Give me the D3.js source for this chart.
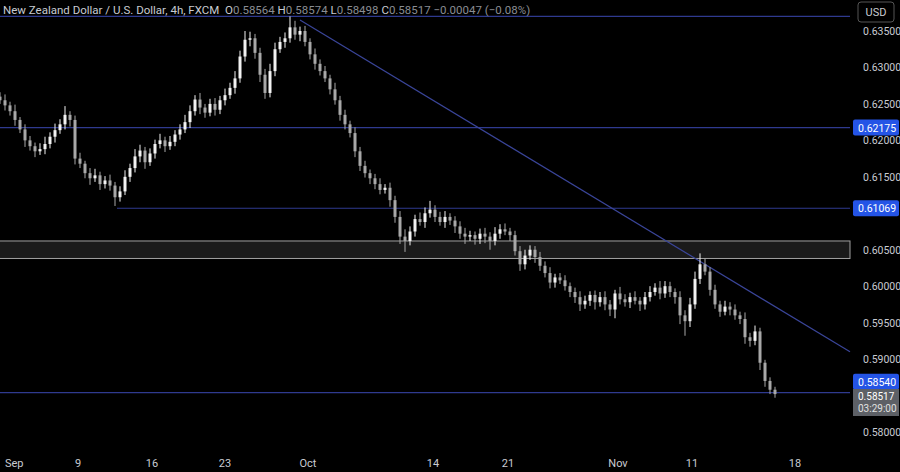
<!DOCTYPE html><html><head><meta charset="utf-8">
<script src="https://cdn.jsdelivr.net/npm/d3@7"></script>
<style>body{margin:0;background:#000}svg{display:block}</style></head><body>
<script>
// closes (in 1e-4 units), 8h candles
const closes=[6255,6248,6240,6228,6215,6200,6192,6185,6188,6195,6205,6214,6222,6235,6228,6175,6168,6155,6148,6152,6140,6145,6138,6122,6130,6150,6162,6178,6186,6170,6182,6195,6200,6192,6198,6208,6215,6225,6240,6256,6245,6238,6250,6242,6255,6262,6272,6285,6315,6338,6340,6320,6290,6265,6295,6325,6335,6340,6355,6345,6350,6335,6318,6305,6295,6285,6270,6255,6235,6222,6210,6185,6165,6155,6148,6140,6132,6135,6118,6095,6068,6062,6075,6092,6088,6100,6105,6095,6088,6095,6090,6082,6072,6068,6070,6065,6072,6068,6062,6072,6078,6075,6070,6048,6030,6042,6050,6040,6028,6018,6005,6012,6008,6000,5992,5985,5975,5980,5988,5978,5985,5975,5968,5990,5982,5978,5985,5980,5975,5985,5992,5998,5990,6000,5992,5985,5960,5952,5975,6010,6030,6020,5995,5975,5965,5972,5968,5960,5955,5930,5925,5938,5895,5870,5858,5852];
const upWick=[6,8,5,9,4,7,6,5,8,10,6,9,7,12,5,6,8,4,7,9,5,6,8,5,7,9,6,10,8,5,7,6,9,5,8,6,7,10,8,6,9,5,7,8,6,9,7,10,8,12,9,6,7,8,10,9,7,8,15,9,6,7,5,8,6,7,5,9,6,7,5,8,6,7,5,6,8,5,7,6,8,10,7,6,9,8,12,6,7,8,5,6,7,8,6,5,7,8,6,9,7,8,5,6,7,8,6,5,7,6,8,5,6,7,5,6,8,7,5,6,7,8,6,5,9,7,6,8,5,7,8,6,9,7,6,5,8,7,9,10,15,8,6,7,5,8,6,7,5,9,6,8,5,4,5,4];
const loWick=[5,7,6,8,5,9,6,8,5,7,6,8,5,7,9,8,6,7,9,5,8,6,7,12,6,5,7,6,8,9,5,7,6,8,5,6,7,5,8,6,9,7,5,8,6,7,5,8,6,7,9,8,10,8,6,7,5,8,6,7,9,6,7,8,6,5,7,6,8,7,6,8,7,6,8,7,6,5,9,8,10,15,6,7,5,8,6,7,5,8,6,9,7,10,6,8,7,9,12,6,7,5,8,6,9,7,6,8,7,6,8,7,5,6,7,8,9,6,7,10,6,8,9,12,7,6,8,5,9,7,6,5,8,6,7,9,12,20,8,6,7,5,8,6,7,5,8,6,7,9,8,6,10,8,6,5];
const priceTicks=[0.635,0.630,0.625,0.620,0.615,0.605,0.600,0.595,0.590,0.580];
const dateLabels=["Sep","9","16","23","Oct","14","21","Nov","11","18"];
const datePos=[1,15.6,30.4,45,61.6,86.6,101.6,123.6,138.4,159];
const levels=[{p:0.6370,from:0},{p:0.62175,from:0,lab:"0.62175"},{p:0.61069,from:23.4,lab:"0.61069"},{p:0.5854,from:0,lab:"0.58540",dy:-11}];
const zone=[0.6062,0.6038];
const trend=[{i:60,p:0.6365},{i:170,p:0.5910}];

const W=900,H=472,plotR=850;
const svg=d3.select("body").append("svg").attr("width",W).attr("height",H).style("background","#000");
const x=d3.scaleLinear().domain([0,1]).range([0,5]);
const y=d3.scaleLinear().domain([0.58,0.635]).range([432,31]);
const g=svg.append("g");
g.append("rect").attr("x",-1).attr("width",plotR+1).attr("y",y(zone[0])).attr("height",y(zone[1])-y(zone[0])).attr("fill","#1a1a1a").attr("stroke","#a0a0a0").attr("stroke-width",1);
levels.forEach(l=>g.append("line").attr("x1",x(l.from)).attr("x2",plotR).attr("y1",y(l.p)).attr("y2",y(l.p)).attr("stroke","#2f3a8f").attr("stroke-width",1.2));
g.append("line").attr("x1",x(trend[0].i)).attr("y1",y(trend[0].p)).attr("x2",plotR).attr("y2",y(trend[0].p+(trend[1].p-trend[0].p)*(plotR/5-trend[0].i)/(trend[1].i-trend[0].i))).attr("stroke","#3a4599").attr("stroke-width",1.2);
closes.forEach((c,i)=>{
  const o=i?closes[i-1]:c+5, hi=Math.max(o,c)+upWick[i], lo=Math.min(o,c)-loWick[i];
  const col=c>=o?"#f2f2f2":"#a8a8a8";
  g.append("line").attr("x1",x(i)).attr("x2",x(i)).attr("y1",y(hi/1e4)).attr("y2",y(lo/1e4)).attr("stroke",col).attr("stroke-width",1);
  const t=y(Math.max(o,c)/1e4),b=y(Math.min(o,c)/1e4);
  g.append("rect").attr("x",x(i)-1.5).attr("width",3).attr("y",t).attr("height",Math.max(1,b-t)).attr("fill",col);
});
const tc="#c8cbd2",F="Roboto, sans-serif",fs=10.5;
priceTicks.forEach(p=>svg.append("text").attr("x",863).attr("y",y(p)+4).attr("fill",tc).attr("font-family",F).attr("font-size",fs).text(p.toFixed(5)));
levels.filter(l=>l.lab).forEach(l=>{const cy=y(l.p)+(l.dy||0);svg.append("rect").attr("x",853).attr("y",cy-8).attr("width",46).attr("height",16).attr("rx",2).attr("fill","#2454e6");
 svg.append("text").attr("x",858).attr("y",cy+4).attr("fill","#fff").attr("font-family",F).attr("font-size",fs).text(l.lab);});
svg.append("rect").attr("x",853).attr("y",389).attr("width",46).attr("height",27).attr("fill","#5d6066");
svg.append("text").attr("x",858).attr("y",400).attr("fill","#fff").attr("font-family",F).attr("font-size",10).text("0.58517");
svg.append("text").attr("x",858).attr("y",412).attr("fill","#e0e0e0").attr("font-family",F).attr("font-size",10).text("03:29:00");
svg.append("rect").attr("x",858).attr("y",2).attr("width",36).attr("height",20).attr("rx",3).attr("fill","#000").attr("stroke","#555");
svg.append("text").attr("x",876).attr("y",16).attr("text-anchor","middle").attr("fill",tc).attr("font-family",F).attr("font-size",11).text("USD");
dateLabels.forEach((d,i)=>svg.append("text").attr("x",x(datePos[i])).attr("y",467).attr("text-anchor",i==0?"start":"middle").attr("fill",tc).attr("font-family",F).attr("font-size",11).text(d));
const hdr=svg.append("text").attr("x",3).attr("y",14).attr("font-family",F).attr("font-size",11.5).attr("fill",tc).attr("xml:space","preserve");
hdr.append("tspan").text("New Zealand Dollar / U.S. Dollar, 4h, FXCM  ");
[["O","0.58564"],["H","0.58574"],["L","0.58498"],["C","0.58517"]].forEach(([a,b])=>{hdr.append("tspan").attr("fill",tc).text(a);hdr.append("tspan").attr("fill","#8a8d93").text(b+" ");});
hdr.append("tspan").attr("fill","#8a8d93").text("−0.00047 (−0.08%)");
</script></body></html>
